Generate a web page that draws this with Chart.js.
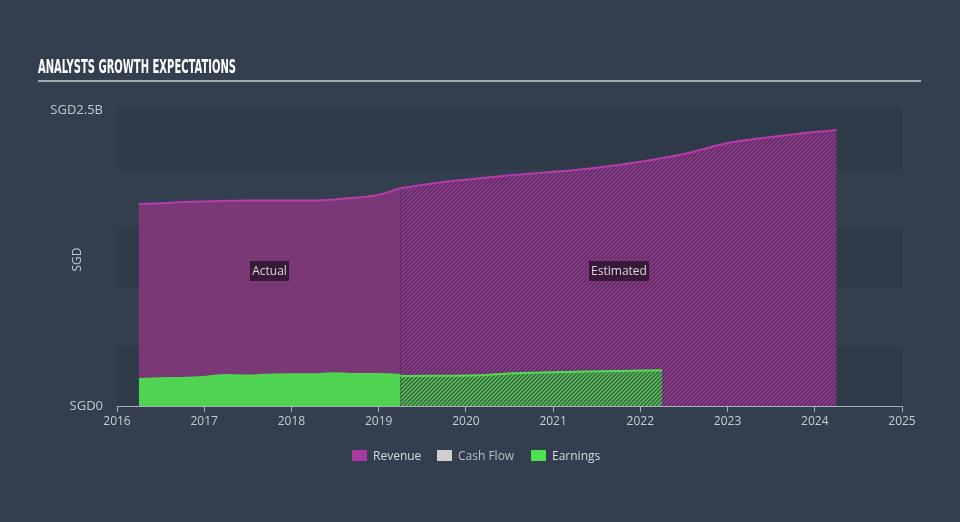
<!DOCTYPE html>
<html>
<head>
<meta charset="utf-8">
<script src="https://cdn.jsdelivr.net/npm/chart.js@4.4.1/dist/chart.umd.min.js"></script>
<style>
  html,body{margin:0;padding:0;background:#333f4f;width:960px;height:522px;overflow:hidden;font-family:"Open Sans",sans-serif;}
  #wrap{position:relative;width:960px;height:522px;}
  #c{position:absolute;left:0;top:0;}
  #title{position:absolute;left:38px;top:55px;color:#ffffff;font-family:"DejaVu Sans Condensed","Liberation Sans Narrow",sans-serif;font-weight:bold;font-size:19px;line-height:22px;transform-origin:0 0;white-space:nowrap;}
  #rule{position:absolute;left:38px;top:80px;width:883px;height:2px;background:#a3a9b1;}
  #ytitle{position:absolute;left:64px;top:251px;color:#c3c8ce;font-size:12px;transform:rotate(-90deg);transform-origin:50% 50%;width:24px;text-align:center;}
  .tag{position:absolute;top:261px;height:20px;line-height:20px;background:rgba(45,20,45,0.85);color:#dcd6dc;font-size:12px;text-align:center;}
  #legend{position:absolute;top:448px;left:0;width:960px;height:16px;font-size:12px;}
  .sw{position:absolute;top:2px;width:15px;height:11px;}
  .lt{position:absolute;top:-1px;color:#d6dadf;}
</style>
</head>
<body>
<div id="wrap">
  <canvas id="c" width="960" height="522"></canvas>
  <div id="title">ANALYSTS GROWTH EXPECTATIONS</div>
  <div id="rule"></div>
  <div id="ytitle">SGD</div>
  <div class="tag" style="left:250px;width:39px;">Actual</div>
  <div class="tag" style="left:589px;width:60px;">Estimated</div>
  <div id="legend">
    <div class="sw" style="left:352px;background:#a83a9f;"></div><div class="lt" style="left:373px;">Revenue</div>
    <div class="sw" style="left:437px;background:#cfcfcf;"></div><div class="lt" style="left:458px;color:#b9bec4;">Cash Flow</div>
    <div class="sw" style="left:531px;background:#4fe04f;"></div><div class="lt" style="left:552px;">Earnings</div>
  </div>
</div>
<script>
// ---- data (values in SGD billions) ----
const revenueActualYears = [2016.25, 2016.5, 2016.75, 2017.0, 2017.25, 2017.5, 2017.75, 2018.0, 2018.25, 2018.5, 2018.75, 2019.0, 2019.25];
const revenueActual      = [1.706, 1.712, 1.722, 1.728, 1.733, 1.736, 1.735, 1.735, 1.735, 1.745, 1.760, 1.785, 1.841];
const revenueEstYears    = [2019.25, 2019.75, 2020.25, 2020.54, 2021.25, 2021.9, 2022.5, 2023.0, 2023.5, 2024.0, 2024.25];
const revenueEst         = [1.841, 1.892, 1.930, 1.951, 1.993, 2.052, 2.128, 2.221, 2.272, 2.314, 2.331];
const earningsActualYears= [2016.25, 2016.5, 2016.75, 2017.0, 2017.25, 2017.5, 2017.75, 2018.0, 2018.25, 2018.5, 2018.75, 2019.0, 2019.25];
const earningsActual     = [0.228, 0.235, 0.237, 0.245, 0.262, 0.258, 0.265, 0.268, 0.268, 0.276, 0.270, 0.270, 0.262];
const earningsEstYears   = [2019.25, 2020.25, 2020.54, 2021.25, 2022.25];
const earningsEst        = [0.253, 0.262, 0.276, 0.290, 0.302];
const yTickLabels = {0: 'SGD0', 2.5: 'SGD2.5B'};
const xMin = 2016, xMax = 2025, yMin = 0, yMax = 2.5;

const pts = (xs, ys) => xs.map((x, i) => ({x, y: ys[i]}));

const canvas = document.getElementById('c');
const ctx = canvas.getContext('2d');
function stripes(bg, fg, size) {
  const p = document.createElement('canvas');
  p.width = p.height = size;
  const g = p.getContext('2d');
  g.fillStyle = bg; g.fillRect(0, 0, size, size);
  g.strokeStyle = fg; g.lineWidth = 1.6;
  g.beginPath();
  g.moveTo(0, size); g.lineTo(size, 0);
  g.moveTo(-size/2, size/2); g.lineTo(size/2, -size/2);
  g.moveTo(size/2, size*1.5); g.lineTo(size*1.5, size/2);
  g.stroke();
  return ctx.createPattern(p, 'repeat');
}
const revPattern = stripes('#4b2f55', '#94398f', 4);
const earnPattern = stripes('#3b4a47', '#52c352', 4);

const bands = {
  id: 'bands',
  beforeDraw(chart) {
    const {ctx, chartArea: a, scales: {y}} = chart;
    ctx.save();
    ctx.fillStyle = '#2e3a48';
    for (let v = 0; v < yMax; v += 1) {
      const top = y.getPixelForValue(v + 0.5), bot = y.getPixelForValue(v);
      ctx.fillRect(a.left, top, a.right - a.left, bot - top);
    }
    ctx.restore();
  }
};

const common = {pointRadius: 0, borderWidth: 2, fill: 'origin', tension: 0.3, cubicInterpolationMode: 'monotone'};

new Chart(ctx, {
  type: 'line',
  data: {
    datasets: [
      {...common, label: 'Revenue', data: pts(revenueActualYears, revenueActual), borderColor: '#b53cab', backgroundColor: '#7b3877', order: 2},
      {...common, label: 'Revenue est', data: pts(revenueEstYears, revenueEst), borderColor: '#b53cab', backgroundColor: revPattern, order: 2},
      {...common, label: 'Earnings', data: pts(earningsActualYears, earningsActual), borderColor: '#4fd84f', backgroundColor: '#50d350', order: 1},
      {...common, label: 'Earnings est', data: pts(earningsEstYears, earningsEst), borderColor: '#4fe04f', backgroundColor: earnPattern, order: 1}
    ]
  },
  options: {
    responsive: false,
    animation: false,
    layout: {padding: {left: 0, right: 58, top: 110, bottom: 86}},
    plugins: {legend: {display: false}, tooltip: {enabled: false}},
    scales: {
      x: {
        type: 'linear', min: xMin, max: xMax,
        afterFit(s) { s.height = 30; },
        grid: {drawOnChartArea: false, drawTicks: true, tickLength: 6, color: '#a9b0b8'},
        border: {display: true, color: '#a9b0b8', width: 1},
        ticks: {stepSize: 1, padding: 2, color: '#c9ced3', font: {family: 'Open Sans', size: 12}, callback: v => String(v)}
      },
      y: {
        min: yMin, max: yMax,
        afterFit(s) { s.width = 117; },
        grid: {display: false, drawTicks: false},
        border: {display: false},
        ticks: {stepSize: 0.5, padding: 14, color: '#c3c8ce', font: {family: 'Open Sans', size: 13},
                callback: v => (yTickLabels[v] !== undefined ? yTickLabels[v] : '')}
      }
    }
  },
  plugins: [bands]
});

// fit title width to reference
const t = document.getElementById('title');
const w = t.getBoundingClientRect().width;
t.style.transform = 'scaleX(' + (198 / w) + ')';
</script>
</body>
</html>
